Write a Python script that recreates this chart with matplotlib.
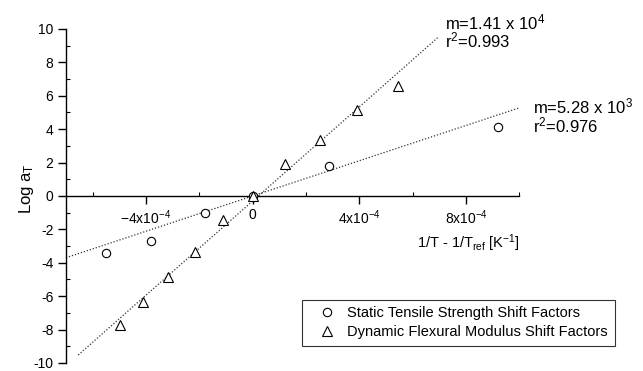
import numpy as np
import matplotlib
matplotlib.use("Agg")
import matplotlib.pyplot as plt
from matplotlib.ticker import MultipleLocator, FuncFormatter

plt.rcParams['font.family'] = ['Liberation Sans', 'DejaVu Sans']
plt.rcParams['mathtext.fontset'] = 'custom'
plt.rcParams['mathtext.rm'] = 'Liberation Sans'
plt.rcParams['mathtext.it'] = 'Liberation Sans:italic'
plt.rcParams['mathtext.default'] = 'regular'
plt.rcParams['axes.unicode_minus'] = False

# shift factors, x = 1/T - 1/Tref [1/K], y = log aT
static_x = [-5.5e-4, -3.8e-4, -1.8e-4, 0.0, 2.87e-4, 9.19e-4]
static_y = [-3.40, -2.71, -1.02, 0.0, 1.81, 4.11]

dynamic_x = [-4.98e-4, -4.10e-4, -3.18e-4, -2.18e-4, -1.13e-4, 0.0,
             1.21e-4, 2.52e-4, 3.92e-4, 5.44e-4]
dynamic_y = [-7.71, -6.33, -4.87, -3.37, -1.44, 0.0,
             1.92, 3.35, 5.17, 6.57]

# fitted lines: slope, intercept, r^2, x range
static_fit = (5.28e3, 0.0, 0.976, (-7.0e-4, 1.0e-3))
dynamic_fit = (1.41e4, -0.3, 0.993, (-6.54e-4, 6.96e-4))

fig = plt.figure(figsize=(6.43, 3.71), dpi=100)
ax = fig.add_axes([0.1026, 0.0216, 0.7052, 0.9003])

for m, b, r2, (x0, x1) in (static_fit, dynamic_fit):
    xs = np.array([x0, x1])
    ax.plot(xs, m * xs + b, linestyle=(0, (1, 1.5)), color='#333333',
            linewidth=0.9, clip_on=False)

ax.plot(static_x, static_y, 'o', markersize=6, markerfacecolor='white',
        markeredgecolor='black', markeredgewidth=0.8, linestyle='none',
        label='Static Tensile Strength Shift Factors', zorder=3)
ax.plot(dynamic_x, dynamic_y, '^', markersize=6.5, markerfacecolor='white',
        markeredgecolor='black', markeredgewidth=0.8, linestyle='none',
        label='Dynamic Flexural Modulus Shift Factors', zorder=3)

ax.set_xlim(-7e-4, 1.0e-3)
ax.set_ylim(-10, 10)

ax.spines['top'].set_visible(False)
ax.spines['right'].set_visible(False)
ax.spines['bottom'].set_position(('data', 0))
for sp in ('left', 'bottom'):
    ax.spines[sp].set_linewidth(1.0)


def xfmt(v, pos):
    k = int(round(v / 1e-4))
    if k == 0:
        return '0'
    return r'$%dx10^{-4}$' % k


ax.xaxis.set_major_locator(MultipleLocator(4e-4))
ax.xaxis.set_minor_locator(MultipleLocator(2e-4))
ax.xaxis.set_major_formatter(FuncFormatter(xfmt))
ax.yaxis.set_major_locator(MultipleLocator(2))
ax.yaxis.set_minor_locator(MultipleLocator(1))
ax.tick_params(axis='both', which='major', direction='out', length=6,
               width=1.0, labelsize=10, pad=3)
ax.tick_params(axis='both', which='minor', direction='in', length=3, width=0.8)

ax.set_ylabel(r'Log a$_T$', fontsize=12)
ax.yaxis.set_label_coords(-0.066, 0.522)
ax.text(1.0, 0.359, r'1/T - 1/T$_{ref}$ [K$^{-1}$]', transform=ax.transAxes,
        ha='right', va='center', fontsize=10.5)

ax.text(7.21e-4, 10.0, r'm=1.41 x 10$^4$', fontsize=12, va='baseline',
        clip_on=False)
ax.text(7.21e-4, 8.88, r'r$^2$=0.993', fontsize=12, va='baseline',
        clip_on=False)
ax.text(10.52e-4, 4.95, r'm=5.28 x 10$^3$', fontsize=12, va='baseline',
        clip_on=False)
ax.text(10.52e-4, 3.83, r'r$^2$=0.976', fontsize=12, va='baseline',
        clip_on=False)

leg = fig.legend(loc='upper left', bbox_to_anchor=(0.47, 0.192), fontsize=10.5,
                 frameon=True, fancybox=False, edgecolor='black',
                 handletextpad=0.15, borderpad=0.45, labelspacing=0.35,
                 handlelength=2.5, borderaxespad=0)
leg.get_frame().set_linewidth(0.8)

fig.savefig('out.png', dpi=100)
